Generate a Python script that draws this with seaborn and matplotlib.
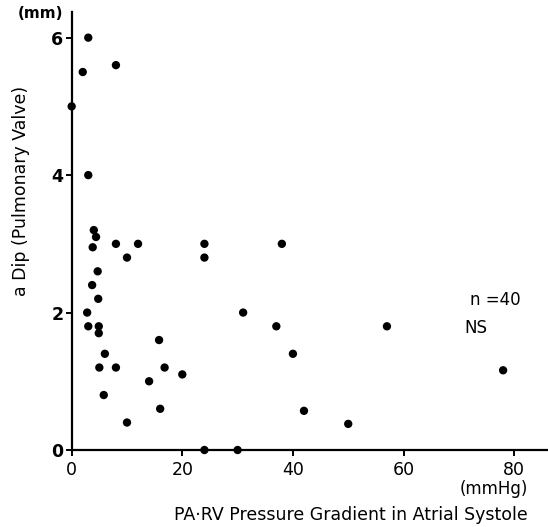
import pandas as pd
import matplotlib
matplotlib.use("Agg")
import matplotlib.pyplot as plt
import seaborn as sns

# PA-RV gradient (mmHg) vs a dip (mm)
gradient = [3, 2, 8, 0, 3,
            4, 4.4, 3.8, 8, 12, 10, 24, 24, 4.7, 3.7, 4.8, 2.8, 3, 4.9, 4.9,
            15.8, 6, 5, 8, 16.8, 20, 14, 5.8, 16, 10, 24, 30,
            38, 31, 37, 57, 40, 78, 42, 50]
a_dip = [6.0, 5.5, 5.6, 5.0, 4.0,
         3.2, 3.1, 2.95, 3.0, 3.0, 2.8, 3.0, 2.8, 2.6, 2.4, 2.2, 2.0, 1.8, 1.8, 1.7,
         1.6, 1.4, 1.2, 1.2, 1.2, 1.1, 1.0, 0.8, 0.6, 0.4, 0.0, 0.0,
         3.0, 2.0, 1.8, 1.8, 1.4, 1.16, 0.57, 0.38]
x_ticks = [0, 20, 40, 60, 80]
y_ticks = [0, 2, 4, 6]

df = pd.DataFrame({"gradient": gradient, "a_dip": a_dip})

sns.set_style("ticks")
plt.rcParams["font.family"] = ["DejaVu Sans"]
plt.rcParams["text.color"] = "black"
plt.rcParams["xtick.color"] = "black"
plt.rcParams["ytick.color"] = "black"
plt.rcParams["axes.edgecolor"] = "black"

fig = plt.figure(figsize=(5.48, 5.27), dpi=100)
ax = fig.add_axes([0.1308, 0.1461, 0.868, 0.832])

sns.scatterplot(data=df, x="gradient", y="a_dip", ax=ax, color="black",
                s=36, edgecolor="none", clip_on=False, zorder=3)

ax.set_xlim(0, 86)
ax.set_ylim(0, 6.38)
ax.set_xticks(x_ticks)
ax.set_yticks(y_ticks)
ax.set_xticklabels([str(t) for t in x_ticks], fontsize=12.5)
ax.set_yticklabels([str(t) for t in y_ticks], fontsize=12.5, fontweight="bold")
ax.tick_params(axis="both", direction="out", length=4, width=1.4, pad=2)
ax.tick_params(axis="x", pad=4)

sns.despine(ax=ax)
for side in ["left", "bottom"]:
    ax.spines[side].set_linewidth(1.6)

ax.set_xlabel("")
ax.set_ylabel("")

# axis titles placed like the original
fig.text(21 / 548, 1 - 191 / 527, "a Dip (Pulmonary Valve)", rotation=90,
         ha="center", va="center", fontsize=12.5)
fig.text(63 / 548, 1 - 14 / 527, "(mm)", ha="right", va="center", fontsize=11, fontweight="bold")
fig.text(528 / 548, 1 - 489 / 527, "(mmHg)", ha="right", va="center", fontsize=12)
fig.text(528 / 548, 1 - 515 / 527, "PA\u00b7RV Pressure Gradient in Atrial Systole",
         ha="right", va="center", fontsize=12.5)

ax.text(72, 2.18, "n =40", fontsize=12, va="center")
ax.text(71, 1.78, "NS", fontsize=12, va="center")

plt.savefig("out.png", dpi=100)
